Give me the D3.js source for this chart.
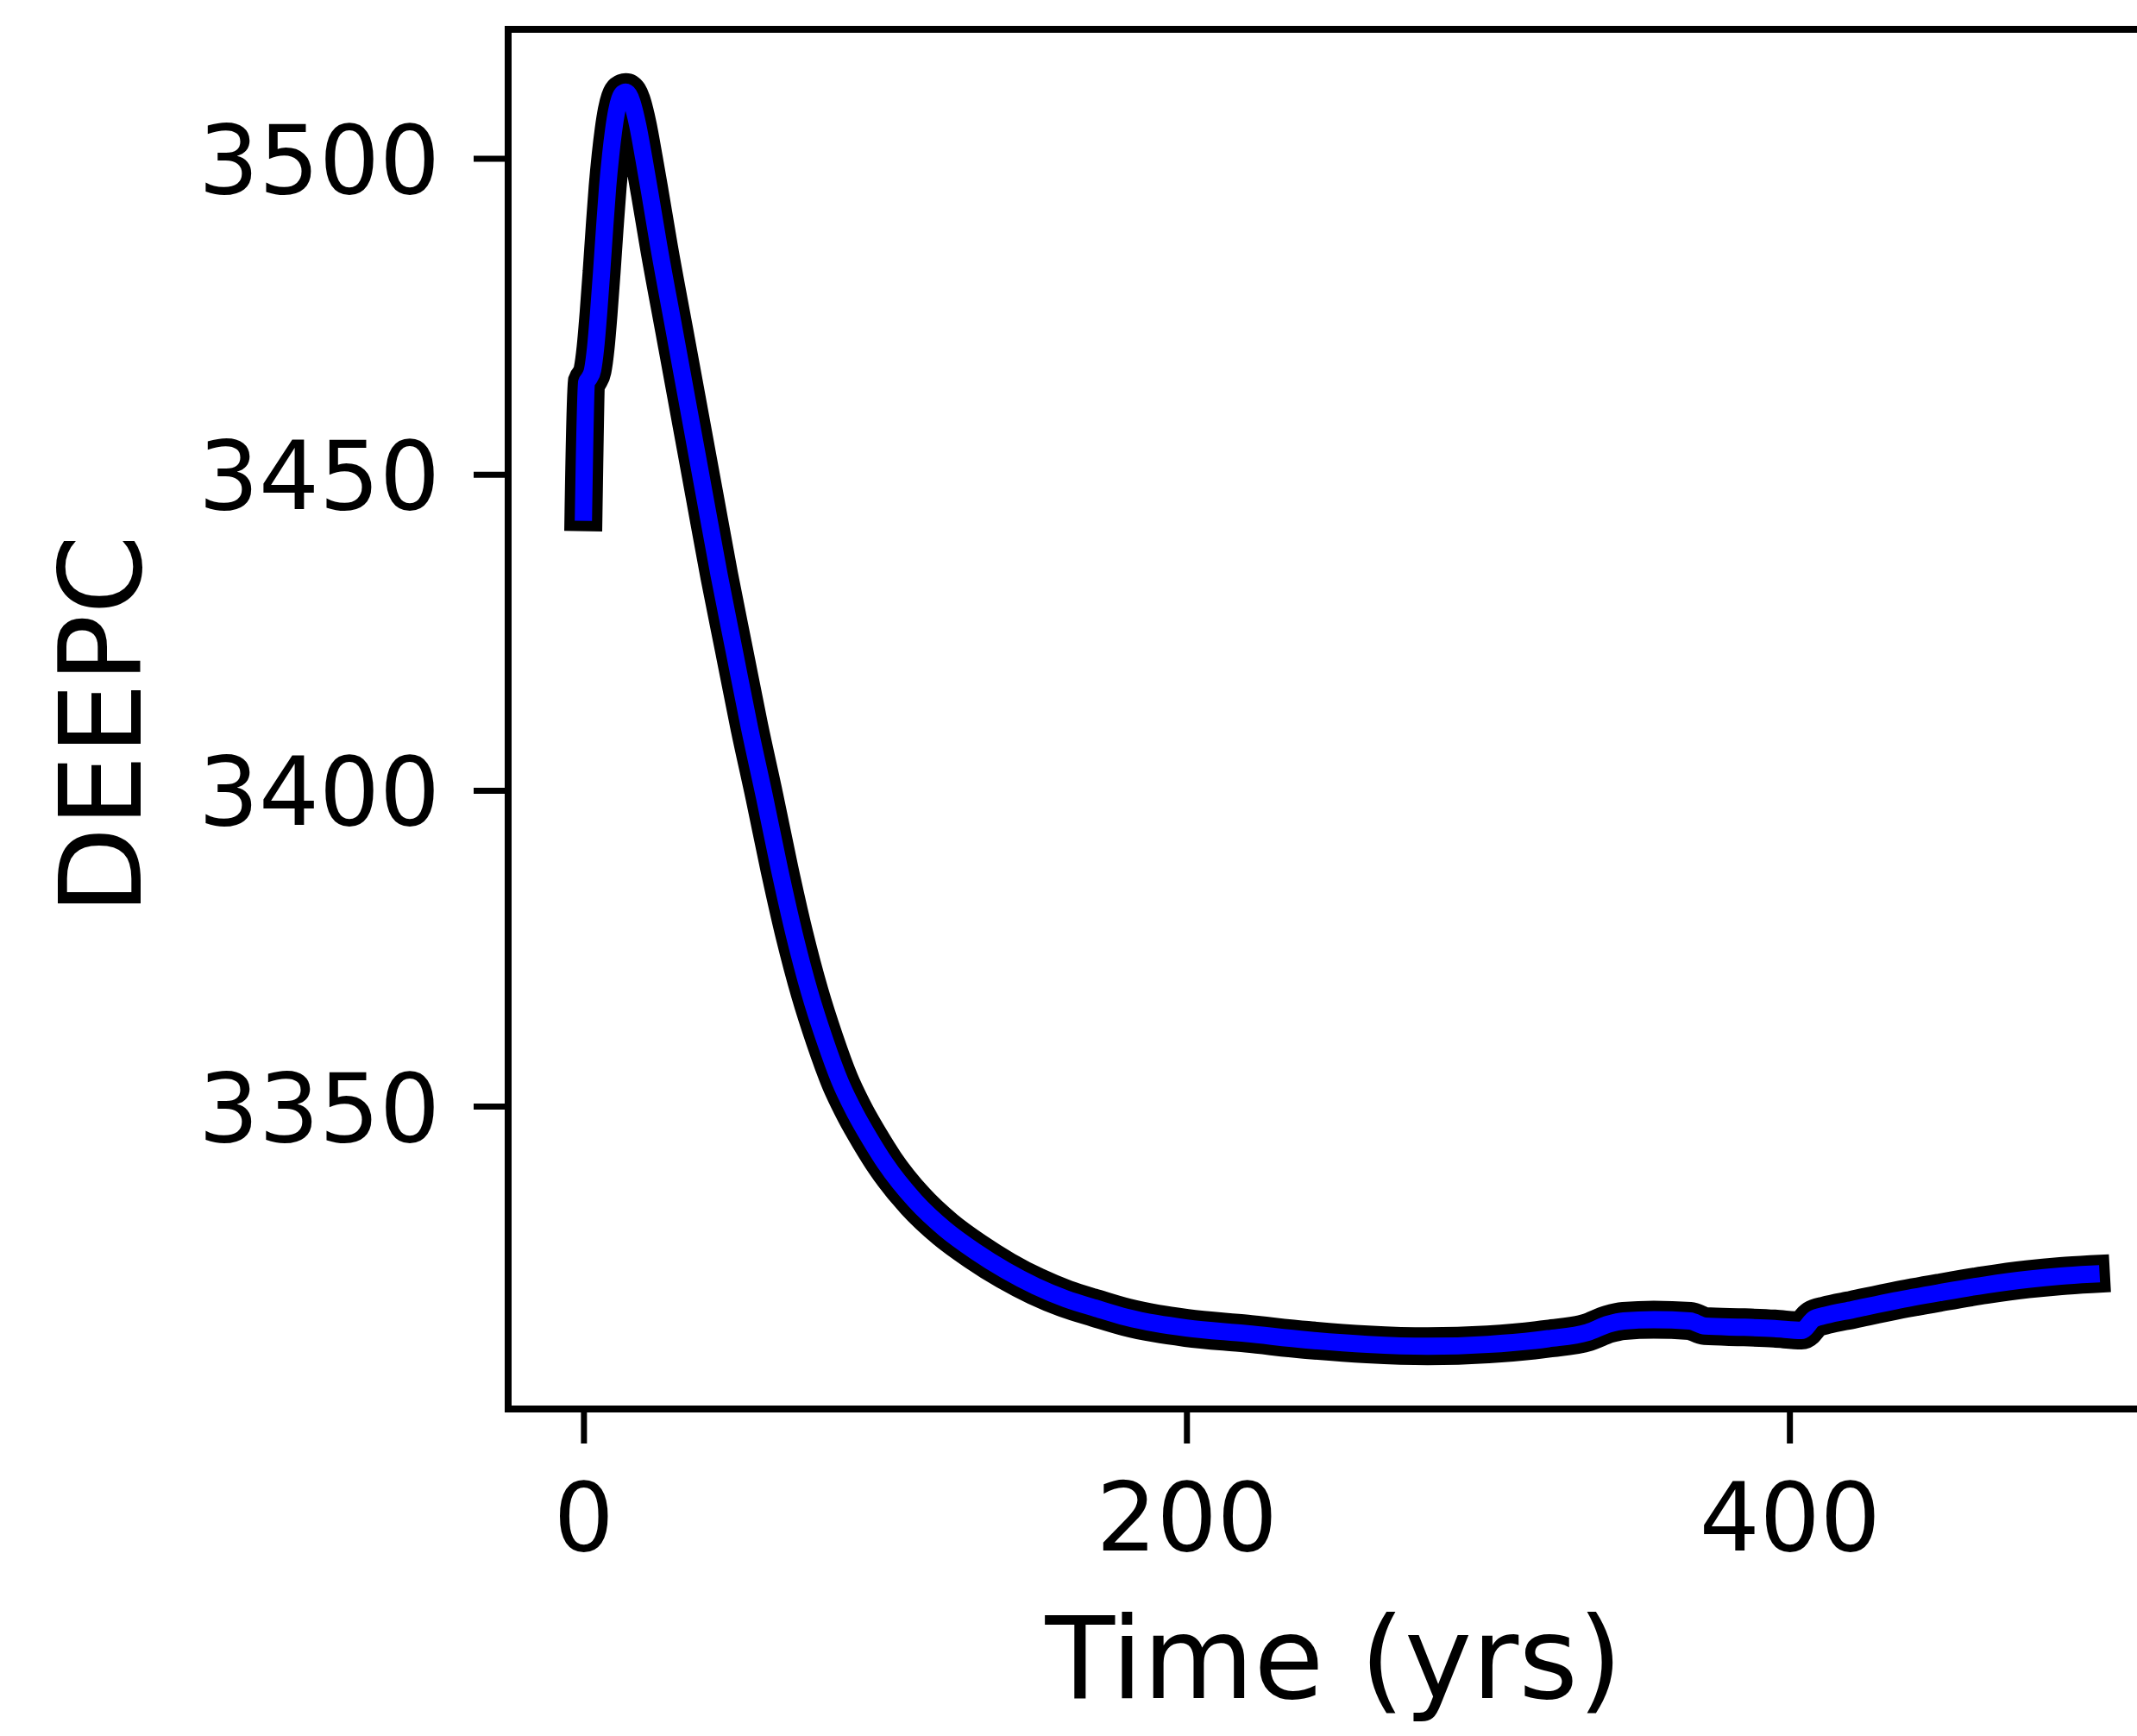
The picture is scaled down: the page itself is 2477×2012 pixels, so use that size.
<!DOCTYPE html>
<html>
<head>
<meta charset="utf-8">
<script src="https://cdn.jsdelivr.net/npm/d3@7"></script>
<style>
  body { margin: 0; background: #fff; }
  svg { display: block; }
</style>
</head>
<body>
<svg id="chart"></svg>
<script>
// DEEPC over time
const years = [0, 1, 2, 3, 4, 5, 6, 7, 8, 9, 10, 11, 12, 13, 14, 15, 16, 17, 18,
  20, 22, 25, 30, 35, 40, 45, 50, 55, 60, 65, 70, 75, 80, 85, 90, 95, 100,
  110, 120, 130, 140, 150, 160, 170, 180, 190, 200,
  220, 240, 260, 280, 300, 320,
  333, 340, 345, 355, 367, 372, 385, 395, 404,
  408, 412, 421, 435, 450, 465, 479, 490, 500];
const deepc = [3444, 3464.5, 3465.3, 3466.5, 3470, 3475.5, 3482, 3489, 3495.5, 3500.5, 3504.5, 3507.5, 3509.4, 3510.3, 3510.5, 3510.1, 3509, 3507.3, 3505.2,
  3500, 3494.5, 3486, 3473, 3460, 3447, 3434, 3422, 3410, 3399, 3387.5, 3377, 3368, 3360.5, 3354, 3349, 3344.8, 3341,
  3335, 3330.5, 3327, 3324, 3321.5, 3319.5, 3318, 3316.6, 3315.6, 3314.9,
  3314, 3313, 3312.3, 3312, 3312.3, 3313.2,
  3314.2, 3315.5, 3316, 3316.2, 3316, 3315.2, 3315, 3314.8, 3314.5,
  3316.3, 3316.9, 3317.8, 3319.2, 3320.5, 3321.7, 3322.6, 3323.1, 3323.4];
const xTicks = [0, 200, 400];
const yTicks = [3350, 3400, 3450, 3500];
const xLabel = "Time (yrs)";
const yLabel = "DEEPC";

const width = 2477;
const height = 2012;
// axes box (right edge falls outside the picture, as in the original)
const axLeft = 589, axRight = 2511, axTop = 34, axBottom = 1633;
const font = "DejaVu Sans";
const tickFont = 110;
const labelFont = 132;
const tickLen = 40;

const data = years.map((yr, i) => ({ x: yr, y: deepc[i] }));

// matplotlib-style 5% margins
const pad = (ext) => {
  const r = ext[1] - ext[0];
  return [ext[0] - 0.05 * r, ext[1] + 0.05 * r];
};

const x = d3.scaleLinear().domain(pad(d3.extent(years))).range([axLeft, axRight]);
const y = d3.scaleLinear().domain(pad(d3.extent(deepc))).range([axBottom, axTop]);

const svg = d3
  .select("#chart")
  .attr("width", width)
  .attr("height", height)
  .attr("viewBox", `0 0 ${width} ${height}`);

svg.append("rect").attr("width", width).attr("height", height).attr("fill", "#fff");

const line = d3
  .line()
  .x((d) => x(d.x))
  .y((d) => y(d.y))
  .curve(d3.curveMonotoneX);

// black outline under the blue line
svg
  .append("path")
  .datum(data)
  .attr("d", line)
  .attr("fill", "none")
  .attr("stroke", "#000")
  .attr("stroke-width", 44)
  .attr("stroke-linecap", "square")
  .attr("stroke-linejoin", "round");

svg
  .append("path")
  .datum(data)
  .attr("d", line)
  .attr("fill", "none")
  .attr("stroke", "#0000ff")
  .attr("stroke-width", 20)
  .attr("stroke-linecap", "square")
  .attr("stroke-linejoin", "round");

// axes
const yAxis = svg
  .append("g")
  .attr("transform", `translate(${axLeft},0)`)
  .call(d3.axisLeft(y).tickValues(yTicks).tickFormat(d3.format("d")).tickSizeOuter(0).tickSize(tickLen).tickPadding(39));

const xAxis = svg
  .append("g")
  .attr("transform", `translate(0,${axBottom})`)
  .call(d3.axisBottom(x).tickValues(xTicks).tickFormat(d3.format("d")).tickSizeOuter(0).tickSize(tickLen));

[yAxis, xAxis].forEach((g) => {
  g.select(".domain").remove();
  g.selectAll(".tick line").attr("stroke", "#000").attr("stroke-width", 7);
  g.selectAll(".tick text")
    .attr("fill", "#000")
    .attr("font-family", font)
    .attr("font-size", tickFont);
});

yAxis.selectAll(".tick text").attr("dy", "0.3645em");
xAxis.selectAll(".tick text").attr("y", 164).attr("dy", 0);

// spines
svg
  .append("rect")
  .attr("x", axLeft)
  .attr("y", axTop)
  .attr("width", axRight - axLeft)
  .attr("height", axBottom - axTop)
  .attr("fill", "none")
  .attr("stroke", "#000")
  .attr("stroke-width", 8);

svg
  .append("text")
  .attr("x", (axLeft + axRight) / 2 - 4)
  .attr("y", 1968)
  .attr("text-anchor", "middle")
  .attr("font-family", font)
  .attr("font-size", labelFont)
  .attr("fill", "#000")
  .text(xLabel);

svg
  .append("text")
  .attr("transform", `translate(163,840) rotate(-90)`)
  .attr("text-anchor", "middle")
  .attr("font-family", font)
  .attr("font-size", labelFont)
  .attr("fill", "#000")
  .text(yLabel);
</script>
</body>
</html>
